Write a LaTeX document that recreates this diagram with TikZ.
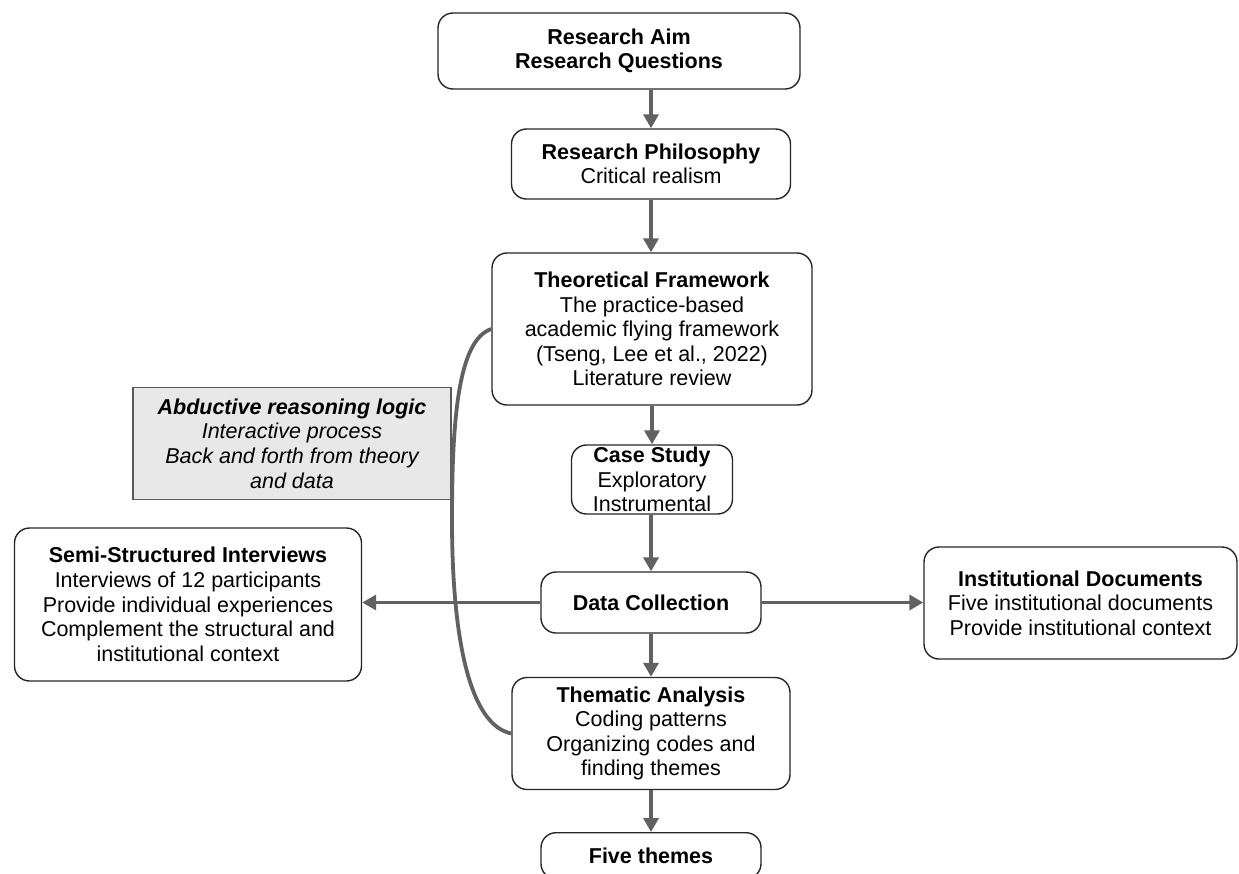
\documentclass[tikz,border=0pt]{standalone}
\usepackage{fontspec}
\setmainfont{Liberation Sans}
\usetikzlibrary{arrows.meta}
\newcommand{\fs}{\fontsize{21.5}{24.6}\selectfont}
\tikzset{
  box/.style={draw=black!85, line width=1.4pt, rounded corners=15pt, align=center, inner sep=0pt, font=\fs},
  graybox/.style={draw=black!65, fill=black!9, line width=1.4pt, align=center, inner sep=0pt, font=\fs\itshape},
  arr/.style={draw=black!62, line width=3.8pt, -{Triangle[length=14pt,width=15pt]}},
  loopline/.style={draw=black!62, line width=3.8pt},
}
\begin{document}
\begin{tikzpicture}[x=1pt,y=-1pt]
\useasboundingbox (0,0) rectangle (1239,873);
\node[box, minimum width=362pt, minimum height=76pt] (aim) at (619,51) {\textbf{Research Aim}\\\textbf{Research Questions}};
\node[box, minimum width=279pt, minimum height=70pt] (phil) at (651,164) {\textbf{Research Philosophy}\\Critical realism};
\node[box, minimum width=320pt, minimum height=152pt] (tf) at (652,329) {\textbf{Theoretical Framework}\\The practice-based\\academic flying framework\\(Tseng, Lee et al., 2022)\\Literature review};
\node[box, minimum width=161pt, minimum height=69pt] (cs) at (652,479.5) {\textbf{Case Study}\\Exploratory\\Instrumental};
\node[box, minimum width=220pt, minimum height=61pt] (dc) at (651,602.5) {\textbf{Data Collection}};
\node[box, minimum width=278pt, minimum height=112pt] (ta) at (651,733.5) {\textbf{Thematic Analysis}\\Coding patterns\\Organizing codes and\\finding themes};
\node[box, minimum width=220pt, minimum height=46pt, anchor=north] (ft) at (651,832) {\textbf{Five themes}};
\node[box, minimum width=347pt, minimum height=153pt] (semi) at (188,604.5) {\textbf{Semi-Structured Interviews}\\Interviews of 12 participants\\Provide individual experiences\\Complement the structural and\\institutional context};
\node[box, minimum width=313pt, minimum height=112pt] (inst) at (1080.5,603) {\textbf{Institutional Documents}\\Five institutional documents\\Provide institutional context};
\node[graybox, minimum width=318pt, minimum height=112pt] (abd) at (292,443.5) {\textbf{Abductive reasoning logic}\\Interactive process\\Back and forth from theory\\and data};
\draw[arr] (aim.south -| phil.north) -- (phil.north);
\draw[arr] (phil.south) -- (phil.south |- tf.north);
\draw[arr] (tf.south -| cs.north) -- (cs.north);
\draw[arr] (cs.south -| dc.north) -- (dc.north);
\draw[arr] (dc.south) -- (ta.north);
\draw[arr] (ta.south) -- (ft.north);
\draw[arr] (dc.west) -- (semi.east |- dc.west);
\draw[arr] (dc.east) -- (inst.west |- dc.east);
\draw[loopline] (tf.west) .. controls (458,340) and (452,420) .. (452,520) .. controls (452,640) and (470,725) .. (ta.west);
\end{tikzpicture}
\end{document}
